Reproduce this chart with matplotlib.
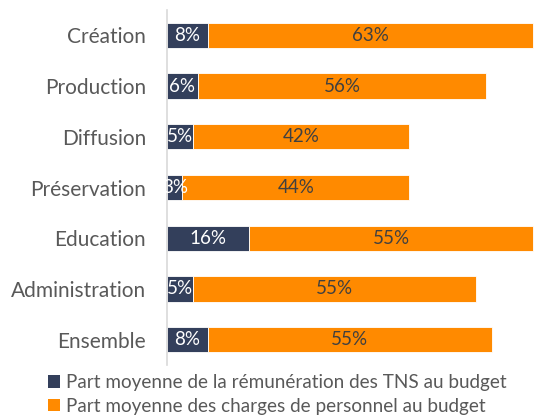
import matplotlib
matplotlib.use("Agg")
import matplotlib.pyplot as plt
from matplotlib.patches import Patch

categories = ["Création", "Production", "Diffusion", "Préservation",
              "Education", "Administration", "Ensemble"]
tns_share = [8, 6, 5, 3, 16, 5, 8]
staff_share = [63, 56, 42, 44, 55, 55, 55]
series_names = ["Part moyenne de la rémunération des TNS au budget",
                "Part moyenne des charges de personnel au budget"]

NAVY = "#333F5B"
ORANGE = "#FF8A00"
GREY = "#595959"

plt.rcParams["font.family"] = ["Lato", "DejaVu Sans"]

fig = plt.figure(figsize=(5.41, 4.16), dpi=100)
ax = fig.add_axes([167 / 541, (416 - 365) / 416, 1 - 167 / 541, 355 / 416])

y = list(range(len(categories)))
b1 = ax.barh(y, tns_share, height=0.5, color=NAVY, edgecolor="white", linewidth=0.6)
b2 = ax.barh(y, staff_share, left=tns_share, height=0.5, color=ORANGE,
             edgecolor="white", linewidth=0.6)

ax.bar_label(b1, labels=[f"{v}%" for v in tns_share], label_type="center",
             color="white", fontsize=13.5)
ax.bar_label(b2, labels=[f"{v}%" for v in staff_share], label_type="center",
             color="#404040", fontsize=13.5)

ax.set_ylim(len(categories) - 0.5, -0.5)
ax.set_xlim(0, 72.6)
ax.set_yticks(y)
ax.set_yticklabels(categories, fontsize=15, color=GREY)
ax.tick_params(axis="y", length=0, pad=15)
ax.set_xticks([])
for s in ["top", "right", "bottom"]:
    ax.spines[s].set_visible(False)
ax.spines["left"].set_color("#D9D9D9")
ax.spines["left"].set_linewidth(1.2)

handles = [Patch(facecolor=NAVY), Patch(facecolor=ORANGE)]
fig.legend(handles, series_names, loc="upper left",
           bbox_to_anchor=(48 / 541, 1 - 374 / 416), frameon=False,
           fontsize=13.6, labelcolor=GREY, handlelength=0.65, handleheight=0.65,
           handletextpad=0.3, labelspacing=0.35, borderaxespad=0, borderpad=0)

fig.savefig("out.png", dpi=100)
